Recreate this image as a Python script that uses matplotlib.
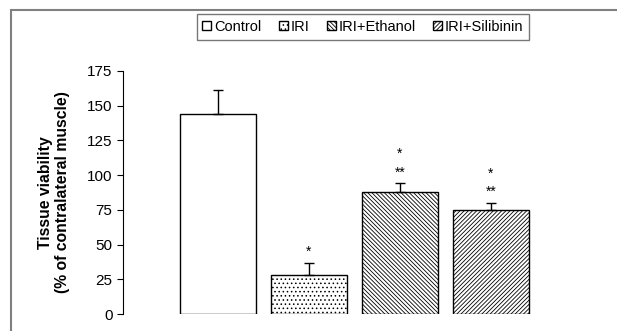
import numpy as np
import matplotlib.pyplot as plt
from matplotlib.patches import Rectangle

plt.rcParams['font.family'] = ['Liberation Sans', 'DejaVu Sans']
plt.rcParams['hatch.linewidth'] = 0.6
plt.rcParams['hatch.color'] = '#333333'

groups = ['Control', 'IRI', 'IRI+Ethanol', 'IRI+Silibinin']
means = [144, 28, 88, 75]
errors = [17, 9, 6, 5]
marks = [[], ['*'], ['**', '*'], ['**', '*']]
hatches = ['', '....', '\\\\\\\\\\\\\\\\', '////////']

fig = plt.figure(figsize=(6.17, 3.31), dpi=100)
fig.patches.append(Rectangle((11 / 617, -0.1), 1.1, 1.1 - 10 / 331,
                             transform=fig.transFigure, fill=False,
                             edgecolor='#808080', lw=1.5))
ax = fig.add_axes([123 / 617, 17 / 331, 457 / 617, 243 / 331])

x = np.arange(len(groups))
for i in range(len(groups)):
    ax.bar(x[i], means[i], width=0.835, color='white', edgecolor='black',
           hatch=hatches[i], lw=1.0, label=groups[i])
ax.errorbar(x, means, yerr=[np.zeros(len(means)), errors], fmt='none',
            ecolor='black', elinewidth=1.0, capsize=3.5, capthick=1.0)

for i in range(len(groups)):
    top = means[i] + errors[i]
    for k, m in enumerate(marks[i]):
        ax.annotate(m, (x[i], top), xytext=(0, 3 + 13 * k), textcoords='offset points',
                    ha='center', va='bottom', fontsize=10)

ax.set_xlim(-1.04, 3.98)
ax.set_ylim(0, 175)
ax.set_yticks(np.arange(0, 176, 25))
ax.tick_params(axis='y', direction='out', length=4, labelsize=11)
ax.set_xticks([])
for s in ['top', 'right', 'bottom']:
    ax.spines[s].set_visible(False)
ax.set_ylabel('Tissue viability\n(% of contralateral muscle)', fontsize=11.3,
              fontweight='bold', labelpad=12)

ax.legend(loc='center', bbox_to_anchor=(363 / 617, 1 - 27 / 331),
          bbox_transform=fig.transFigure, ncol=4, frameon=True, fancybox=False,
          edgecolor='#555555', fontsize=10.5, handlelength=0.6, handleheight=0.6,
          handletextpad=0.2, columnspacing=1.2, borderpad=0.4)

plt.savefig('out.png', dpi=100)
